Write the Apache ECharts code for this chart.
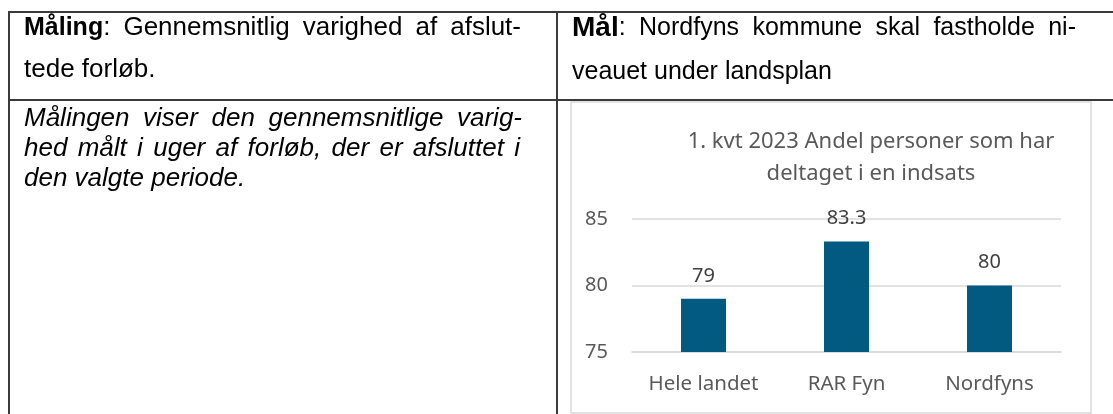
<!DOCTYPE html>
<html>
<head>
<meta charset="utf-8">
<script src="https://cdn.jsdelivr.net/npm/echarts@6/dist/echarts.min.js"></script>
<style>
html,body{margin:0;padding:0;background:#fff;}
#c{width:1113px;height:414px;}
</style>
</head>
<body>
<div id="c"></div>
<script>
const categories = ['Hele landet', 'RAR Fyn', 'Nordfyns'];
const values = [79, 83.3, 80];
const yTicks = [75, 80, 85];
const chartTitle = '1. kvt 2023 Andel personer som har\ndeltaget i en indsats';

const chart = echarts.init(document.getElementById('c'), null, {renderer: 'canvas'});
const lineColor = '#3a3a3a';
const bodyFamily = '"Liberation Sans", Arial, sans-serif';
const chartFont = '"Noto Sans", "Open Sans", sans-serif';

// ---- justified text helper (positions computed from measured word widths) ----
const mctx = document.createElement('canvas').getContext('2d');
function fontStr(o) {
  return (o.italic ? 'italic ' : '') + (o.bold ? 'bold ' : '') + o.size + 'px ' + bodyFamily;
}
function measure(parts) {
  let w = 0;
  parts.forEach(p => { mctx.font = fontStr(p); w += mctx.measureText(p.t).width; });
  return w;
}
function textLine(words, x, y, right, justify, base) {
  const els = [];
  const widths = words.map(measure);
  mctx.font = fontStr(base);
  const spaceW = mctx.measureText(' ').width;
  let gap = spaceW;
  const total = widths.reduce((a, b) => a + b, 0);
  if (justify && words.length > 1) gap = Math.max(spaceW, (right - x - total) / (words.length - 1));
  let cx = x;
  words.forEach((parts, i) => {
    let px = cx;
    parts.forEach(p => {
      els.push({type: 'text', style: {
        x: px, y: y, verticalAlign: 'middle', text: p.t,
        fontFamily: bodyFamily, fontSize: p.size,
        fontWeight: p.bold ? 'bold' : 'normal',
        fontStyle: p.italic ? 'italic' : 'normal', fill: '#000'}});
      mctx.font = fontStr(p);
      px += mctx.measureText(p.t).width;
    });
    cx += widths[i] + gap;
  });
  return els;
}
function plain(str, base) {
  return str.split(' ').map(w => [Object.assign({}, base, {t: w})]);
}

const regL = {size: 26};
const italL = {size: 26, italic: true};
const regR = {size: 25};
const texts = [].concat(
  textLine([[{t: 'Måling', bold: true, size: 25}, {t: ':', size: 26}]].concat(plain('Gennemsnitlig varighed af afslut-', regL)), 24, 28, 521, true, regL),
  textLine(plain('tede forløb.', regL), 24, 70, 521, false, regL),
  textLine(plain('Målingen viser den gennemsnitlige varig-', italL), 24, 119, 522, true, italL),
  textLine(plain('hed målt i uger af forløb, der er afsluttet i', italL), 24, 149, 520, true, italL),
  textLine(plain('den valgte periode.', italL), 24, 179, 520, false, italL),
  textLine([[{t: 'Mål', bold: true, size: 28}, {t: ':', size: 25}]].concat(plain('Nordfyns kommune skal fastholde ni-', regR)), 572, 28, 1076, true, regR),
  textLine(plain('veauet under landsplan', regR), 572, 72, 1076, false, regR)
);

chart.setOption({
  backgroundColor: '#ffffff',
  animation: false,
  title: {
    text: chartTitle,
    left: 866,
    top: 121,
    textAlign: 'center',
    textStyle: {
      color: '#595959',
      fontFamily: chartFont,
      fontWeight: 'normal',
      fontSize: 22,
      lineHeight: 32
    }
  },
  grid: {left: 632, right: 52, top: 219, bottom: 62, containLabel: false},
  xAxis: {
    type: 'category',
    data: categories,
    axisLine: {show: true, lineStyle: {color: '#d9d9d9', width: 1.5}},
    axisTick: {show: false},
    axisLabel: {color: '#595959', fontFamily: chartFont, fontSize: 20.5, margin: 22}
  },
  yAxis: {
    type: 'value',
    min: yTicks[0],
    max: yTicks[yTicks.length - 1],
    interval: yTicks[1] - yTicks[0],
    axisLine: {show: false},
    axisTick: {show: false},
    splitLine: {lineStyle: {color: '#d9d9d9', width: 1.5}},
    axisLabel: {color: '#595959', fontFamily: chartFont, fontSize: 20, margin: 24, align: 'right'}
  },
  series: [{
    type: 'bar',
    data: values,
    barWidth: 45,
    itemStyle: {color: '#035a80'},
    label: {
      show: true,
      position: 'top',
      distance: 13,
      color: '#404040',
      fontFamily: chartFont,
      fontSize: 20
    }
  }],
  graphic: [
    {type: 'rect', z: -10, shape: {x: 571, y: 102, width: 520, height: 311},
     style: {fill: '#ffffff', stroke: '#d9d9d9', lineWidth: 1.5}},
    {type: 'line', shape: {x1: 9, y1: 12, x2: 1113, y2: 12}, style: {stroke: lineColor, lineWidth: 2}},
    {type: 'line', shape: {x1: 9, y1: 100, x2: 1113, y2: 100}, style: {stroke: lineColor, lineWidth: 2}},
    {type: 'line', shape: {x1: 9, y1: 11, x2: 9, y2: 414}, style: {stroke: lineColor, lineWidth: 2}},
    {type: 'line', shape: {x1: 557, y1: 11, x2: 557, y2: 414}, style: {stroke: lineColor, lineWidth: 2}}
  ].concat(texts)
});
</script>
</body>
</html>
